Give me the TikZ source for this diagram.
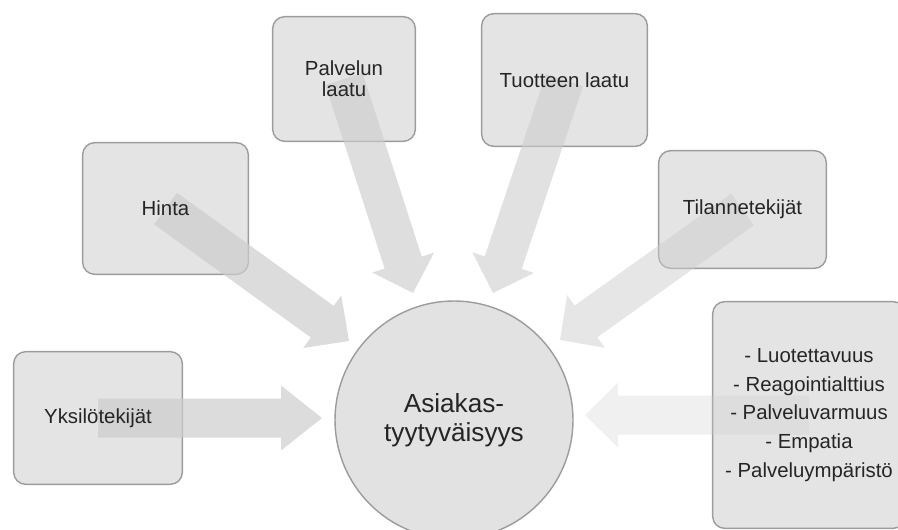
\documentclass[tikz,border=0pt]{standalone}
\usepackage{fontspec}
\setmainfont{Liberation Sans}
\usetikzlibrary{calc}
\definecolor{boxfill}{HTML}{E4E4E4}
\definecolor{boxline}{HTML}{9C9C9C}
\definecolor{circfill}{HTML}{E2E2E2}
\definecolor{arrowgray}{HTML}{CDCDCD}
\definecolor{txt}{HTML}{252525}
\pgfdeclarelayer{bg}
\pgfdeclarelayer{mid}
\pgfsetlayers{bg,mid,main}
% fat arrow: opacity, start, tip, head length
\newcommand\fatarrow[4]{%
  \coordinate (hb) at ($(#3)!#4!(#2)$);
  \fill[arrowgray, fill opacity=#1]
    ($(#2)!0.39cm!90:(#3)$) -- ($(hb)!0.39cm!90:(#3)$) -- ($(hb)!0.65cm!90:(#3)$)
    -- (#3) -- ($(hb)!0.65cm!-90:(#3)$) -- ($(hb)!0.39cm!-90:(#3)$)
    -- ($(#2)!0.39cm!-90:(#3)$) -- cycle;}
\begin{document}
\begin{tikzpicture}[x=0.02cm,y=-0.02cm,
  factor/.style={text=txt, font=\fontsize{11.6}{12}\selectfont, align=center, inner sep=0pt},
  frame/.style={draw=boxline, line width=0.8pt, fill=boxfill, rounded corners=0.24cm}]
\useasboundingbox (0,0) rectangle (898,530);

% factor boxes (text nodes; frames on background layer)
\node[factor, minimum width=3.36cm, minimum height=2.64cm] (yks) at (98,418) {Yksilötekijät};
\node[factor, minimum width=3.30cm, minimum height=2.62cm] (hin) at (165.5,208.5) {Hinta};
\node[factor, minimum width=2.84cm, minimum height=2.48cm] (pal) at (344,79) {Palvelun\\laatu};
\node[factor, minimum width=3.30cm, minimum height=2.64cm] (tuo) at (564.5,80) {Tuotteen laatu};
\node[factor, minimum width=3.34cm, minimum height=2.34cm] (til) at (742.5,209.5) {Tilannetekijät};
\node[factor, font=\fontsize{11.6}{16.4}\selectfont, minimum width=3.84cm, minimum height=4.52cm] (bul) at (809,415)
  {- Luotettavuus\\- Reagointialttius\\- Palveluvarmuus\\- Empatia\\- Palveluympäristö};

\begin{pgfonlayer}{bg}
  \foreach \n in {yks,hin,pal,tuo,til,bul}
    \draw[frame] (\n.south west) rectangle (\n.north east);
\end{pgfonlayer}

% central circle
\node[circle, draw=boxline, line width=0.8pt, fill=circfill, minimum size=4.76cm, inner sep=0pt,
  text=txt, font=\fontsize{14.9}{16.5}\selectfont, align=center] (sat) at (454,420) {Asiakas-\\tyytyväisyys};

% arrow tips
\coordinate (yksTip) at (322,418);
\coordinate (hinTip) at (349,341);
\coordinate (palTip) at (413,293);
\coordinate (tuoTip) at (493,293);
\coordinate (tilTip) at (560,340);
\coordinate (bulTip) at (585,415);

\begin{pgfonlayer}{mid}
  \fatarrow{0.7}{yks.center}{yksTip}{0.82cm}
  \fatarrow{0.7}{hin.center}{hinTip}{0.66cm}
  \fatarrow{0.65}{pal.center}{palTip}{0.64cm}
  \fatarrow{0.6}{tuo.center}{tuoTip}{0.64cm}
  \fatarrow{0.5}{til.center}{tilTip}{0.64cm}
  \fatarrow{0.3}{bul.center}{bulTip}{0.66cm}
\end{pgfonlayer}
\end{tikzpicture}
\end{document}
